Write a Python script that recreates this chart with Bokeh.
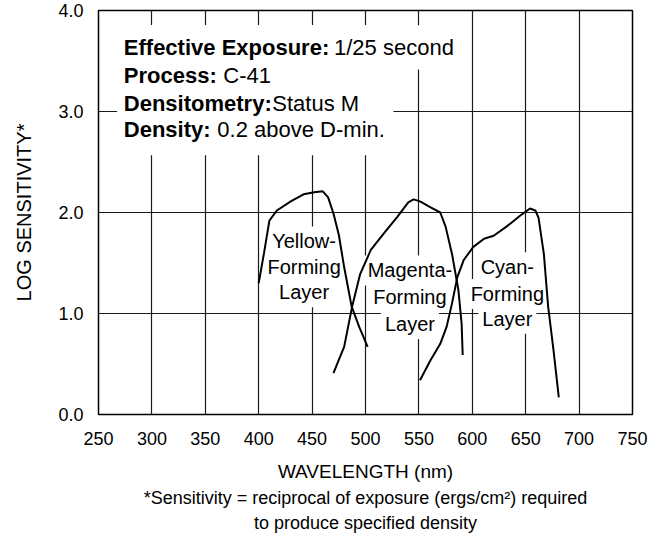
from bokeh.plotting import figure
from bokeh.models import Label, Title, FixedTicker, PrintfTickFormatter, BoxAnnotation
from bokeh.embed import file_html
from bokeh.resources import INLINE

# ---- data ----
x_ticks = [250, 300, 350, 400, 450, 500, 550, 600, 650, 700, 750]
y_ticks = [0, 1, 2, 3, 4]

yellow_nm = [400, 405, 410, 417, 430, 442, 452, 460, 465, 470, 475, 480, 487, 494, 502]
yellow_ls = [1.30, 1.60, 1.92, 2.02, 2.11, 2.18, 2.20, 2.21, 2.15, 1.99, 1.78, 1.46, 1.07, 0.87, 0.67]

magenta_nm = [470, 475, 480, 487.5, 495, 505, 517, 530, 540, 545, 551, 561, 570, 575, 581, 587, 590, 591]
magenta_ls = [0.41, 0.54, 0.67, 1.07, 1.39, 1.63, 1.79, 1.96, 2.10, 2.13, 2.11, 2.05, 2.00, 1.86, 1.59, 1.23, 0.90, 0.59]

cyan_nm = [551, 561, 570, 576, 581, 586, 592, 601, 611, 620, 632, 645, 654, 659, 662, 667, 671, 676, 681]
cyan_ls = [0.34, 0.54, 0.70, 0.87, 1.10, 1.36, 1.53, 1.66, 1.74, 1.77, 1.86, 1.97, 2.04, 2.02, 1.95, 1.59, 1.07, 0.64, 0.17]

header_bold = ["Effective Exposure:", "Process:", "Densitometry:", "Density:"]
header_regular = ["1/25 second", "C-41", "Status M", "0.2 above D-min."]

layer_labels = [
    ["Yellow-", "Forming", "Layer"],
    ["Magenta-", "Forming", "Layer"],
    ["Cyan-", "Forming", "Layer"],
]

y_title = "LOG SENSITIVITY*"
x_title = "WAVELENGTH (nm)"
footnote_lines = [
    "*Sensitivity = reciprocal of exposure (ergs/cm\u00b2) required",
    "to produce specified density",
]

FONT = "Liberation Sans"

p = figure(width=666, height=542, x_range=(250, 750), y_range=(0, 4), title=None,
           output_backend="svg", toolbar_location=None,
           min_border_left=98, min_border_right=34, min_border_top=10,
           min_border_bottom=128)
p.background_fill_color = "white"
p.border_fill_color = "white"
p.outline_line_color = "black"
p.outline_line_width = 1.5

for ax in (p.xaxis, p.yaxis):
    ax.axis_line_color = None
    ax.major_tick_in = 0
    ax.major_tick_out = 0
    ax.minor_tick_line_color = None
    ax.major_label_text_font = FONT
    ax.major_label_text_font_size = "18px"
    ax.major_label_text_color = "black"
    ax.axis_label_text_font = FONT
    ax.axis_label_text_font_style = "normal"
    ax.axis_label_text_color = "black"

p.xaxis.major_label_standoff = 17
p.yaxis.major_label_standoff = 15
p.xaxis.ticker = FixedTicker(ticks=x_ticks)
p.yaxis.ticker = FixedTicker(ticks=y_ticks)
p.yaxis.formatter = PrintfTickFormatter(format="%.1f")
p.xaxis.axis_label = x_title
p.xaxis.axis_label_text_font_size = "19px"
p.xaxis.axis_label_standoff = 13
p.yaxis.axis_label = y_title
p.yaxis.axis_label_text_font_size = "20px"
p.yaxis.axis_label_standoff = 20

for g in (p.xgrid, p.ygrid):
    g.grid_line_color = "#1a1a1a"
    g.grid_line_width = 1.2
p.xgrid.ticker = FixedTicker(ticks=x_ticks)
p.ygrid.ticker = FixedTicker(ticks=y_ticks)

# white panel behind the header block (hides the grid, as in the reference)
p.add_layout(BoxAnnotation(left=267.4, right=526.2, top=3.853, bottom=2.566,
                           fill_color="white", fill_alpha=1, line_color=None,
                           level="underlay"))
p.add_layout(BoxAnnotation(left=267.4, right=589.0, top=3.853, bottom=3.416,
                           fill_color="white", fill_alpha=1, line_color=None,
                           level="underlay"))

bold_x = 273.7
header_y = [3.635, 3.361, 3.081, 2.817]
regular_x = [470.5, 366.9, 412.7, 361.3]
for bt, rt, yy, rx in zip(header_bold, header_regular, header_y, regular_x):
    p.add_layout(Label(x=bold_x, y=yy, text=bt, text_font=FONT, text_font_size="22px",
                       text_font_style="bold", text_color="black", text_baseline="alphabetic",
                       text_align="left", level="underlay"))
    p.add_layout(Label(x=rx, y=yy, text=rt, text_font=FONT, text_font_size="22px",
                       text_color="black", text_baseline="alphabetic",
                       text_align="left", level="underlay"))

# layer labels: white boxes first, then the texts
items = []
label_x = [442.5, 541.6, 632.8]
label_y = [[1.713, 1.458, 1.211], [1.426, 1.162, 0.897], [1.458, 1.194, 0.947]]
for lines, lx, lys in zip(layer_labels, label_x, label_y):
    for t, ly in zip(lines, lys):
        items.append((lx, ly, t))
for (x, y, t) in items:
    p.add_layout(Label(x=x, y=y, text=t, text_font=FONT, text_font_size="20px",
                       text_color="white", text_baseline="alphabetic", text_align="center",
                       background_fill_color="white", padding=4, level="underlay"))
for (x, y, t) in items:
    p.add_layout(Label(x=x, y=y, text=t, text_font=FONT, text_font_size="20px",
                       text_color="black", text_baseline="alphabetic", text_align="center",
                       level="underlay"))

for xs, ys in ((yellow_nm, yellow_ls), (magenta_nm, magenta_ls), (cyan_nm, cyan_ls)):
    p.line(xs, ys, line_color="black", line_width=2)

for t in footnote_lines:
    p.add_layout(Title(text=t, align="center", text_font=FONT, text_font_size="18px",
                       text_font_style="normal", text_color="black", standoff=3), "below")

open("out.html", "w").write(file_html(p, INLINE))
